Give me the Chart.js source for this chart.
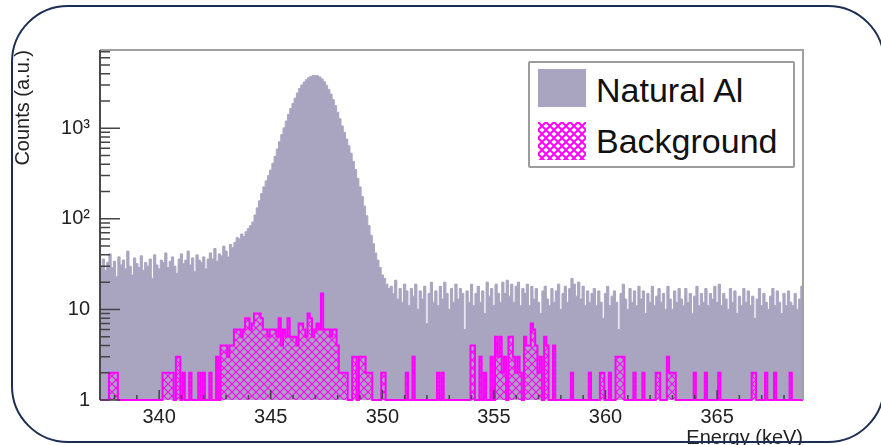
<!DOCTYPE html>
<html>
<head>
<meta charset="utf-8">
<script src="https://cdn.jsdelivr.net/npm/chart.js@4.4.0/dist/chart.umd.min.js"></script>
<style>
  html, body { margin: 0; padding: 0; background: #fff; overflow: hidden; }
  #wrap { position: relative; width: 881px; height: 445px; overflow: hidden; }
  #c { position: absolute; left: 0; top: 0; }
  #border { position: absolute; left: 11px; top: 5px; width: 874px; height: 438px; box-sizing: border-box;
            border: 2.5px solid #1c2f52; border-radius: 57px; pointer-events: none; }
  #legend { position: absolute; left: 528px; top: 61px; width: 267px; height: 107px; box-sizing: border-box;
            border: 2px solid #9c9c9c; border-radius: 2px; background: #fff; }
  .sw { position: absolute; left: 538px; width: 48px; height: 38px; }
  .lbl { position: absolute; left: 596px; font: 34px/34px "Liberation Sans", Arial, sans-serif; color: #111; white-space: nowrap; }
</style>
</head>
<body>
<div id="wrap">
  <canvas id="c" width="881" height="445"></canvas>
  <div id="legend"></div>
  <div class="sw" style="top:69px; background:#a9a5c1;"></div>
  <span class="lbl" style="top:73px;">Natural Al</span>
  <canvas class="sw" id="sw2" width="48" height="38" style="top:122px;"></canvas>
  <span class="lbl" style="top:124px;">Background</span>
  <div id="border"></div>
</div>
<script>
  // histogram binning (keV)
  const binLow = 337.35;
  const binWidth = 0.1;

  // counts per 0.1 keV bin
  const naturalAl = [
    30,36,27,33,41,29,34,23,38,31, 35,28,44,30,24,37,32,29,39,27,
    33,30,36,22,40,31,28,35,33,42, 29,34,38,30,25,36,41,32,35,44,
    31,37,26,40,35,33,38,28,36,42, 36,47,34,41,39,50,44,38,52,48,
    55,62,60,68,64,72,78,84,92,110, 132,158,190,225,262,300,345,410,490,590,
    710,850,1010,1200,1420,1650,1880,2150,2450,2750, 3000,3230,3430,3600,3730,3810,3830,3790,3680,3500,
    3260,2980,2680,2380,2070,1770,1500,1270,1060,900, 760,640,530,430,350,280,225,176,138,108,
    84,66,53,42,35,29,24,22,19,17, 18,15,21,13,17,12,19,16,11,17,
    14,19,10,16,13,18,7,15,20,12, 16,11,18,13,20,15,10,17,12,19,
    13,17,15,6,16,12,19,11,15,18, 12,16,9,20,14,17,11,19,15,12,
    20,15,21,14,19,12,18,20,11,17, 15,19,11,18,13,17,12,9,16,18,
    13,11,17,12,16,19,10,15,18,12, 17,22,19,14,20,13,18,11,16,12,
    15,17,11,16,12,8,15,18,11,14, 16,12,6,15,19,13,10,17,12,16,
    11,18,13,16,9,15,12,18,11,14, 17,12,15,10,18,13,10,16,12,17,
    13,11,17,12,15,9,14,18,11,15, 12,17,11,15,13,18,12,19,11,15,
    13,10,17,12,16,9,14,11,17,12, 16,11,14,8,13,17,11,15,12,10,
    14,17,11,16,12,9,15,11,16,12, 11,15,10,13,18
  ];

  const background = [
    0,0,0,0,2,2,2,2,0,0, 0,0,0,0,0,0,0,0,0,0,
    0,0,0,0,0,0,0,0,2,2, 2,2,2,0,3,3,0,2,0,0,
    2,0,0,0,2,0,2,0,0,2, 0,0,3,0,4,4,4,3,4,4,
    6,6,6,5,6,8,8,6,7,9, 9,9,8,6,6,5,6,6,6,5,
    8,4,6,5,8,5,5,5,4,7, 7,6,5,9,8,5,6,7,6,15,
    6,6,6,5,6,6,4,2,2,2, 2,0,0,3,3,0,3,3,3,2,
    2,2,0,0,0,0,2,2,0,0, 0,0,0,0,0,0,0,2,0,0,
    3,0,0,0,0,0,0,0,0,0, 0,2,0,2,0,0,0,0,0,0,
    0,0,0,0,0,0,4,4,0,0, 3,0,2,0,0,3,0,5,3,5,
    2,3,0,5,5,3,2,3,2,0, 5,4,4,7,6,4,2,3,0,5,
    4,0,0,4,0,0,0,0,0,0, 0,2,0,0,0,0,0,0,0,2,
    0,0,0,0,2,2,0,0,2,0, 0,3,3,3,3,0,0,0,0,2,
    0,0,0,2,0,0,0,0,0,2, 2,0,0,0,3,2,2,2,0,0,
    0,0,0,0,0,0,2,0,0,0, 0,2,0,0,0,0,0,2,0,0,
    0,0,0,0,0,0,0,0,0,0, 0,0,2,2,0,0,0,0,2,0,
    0,0,2,0,0,0,0,0,0,2, 0,0,0,0,0
  ];

  const xTickValues = [340, 345, 350, 355, 360, 365];
  const yTickValues = [1, 10, 100, 1000];
  const yTickLabels = ['1', '10', '10²', '10³'];
  const xMin = 337.35, xMax = 368.85;
  const yMin = 1, yMax = 7300;

  const FONT = '"Liberation Sans", Arial, sans-serif';
  const natColor = '#a9a5c1';
  const bkgColor = '#ff00ff';

  // histogram -> step points at bin edges (empty bins sit on the axis floor)
  function toSteps(counts) {
    const pts = counts.map((c, i) => ({ x: binLow + i * binWidth, y: Math.max(c, yMin) }));
    pts.push({ x: binLow + counts.length * binWidth, y: Math.max(counts[counts.length - 1], yMin) });
    return pts;
  }

  function makeHatch(ctx, color, size, lw) {
    const tile = document.createElement('canvas');
    tile.width = size; tile.height = size;
    const g = tile.getContext('2d');
    g.strokeStyle = color; g.lineWidth = lw;
    g.beginPath();
    g.moveTo(-1, -1); g.lineTo(size + 1, size + 1);
    g.moveTo(size + 1, -1); g.lineTo(-1, size + 1);
    g.stroke();
    return ctx.createPattern(tile, 'repeat');
  }

  const canvas = document.getElementById('c');
  const hatch = makeHatch(canvas.getContext('2d'), bkgColor, 8, 1.1);

  // legend swatch for the hatched histogram
  const sw = document.getElementById('sw2').getContext('2d');
  sw.fillStyle = '#fff'; sw.fillRect(0, 0, 48, 38);
  sw.fillStyle = makeHatch(sw, bkgColor, 8, 2); sw.fillRect(0, 0, 48, 38);

  // ROOT-like frame and inward tick marks
  const rootFrame = {
    id: 'rootFrame',
    afterDatasetsDraw(chart) {
      const { ctx, chartArea: a, scales: { x, y } } = chart;
      ctx.save();
      ctx.lineWidth = 2; ctx.strokeStyle = '#a0a0a0';
      ctx.beginPath(); ctx.moveTo(a.left, a.top); ctx.lineTo(a.right, a.top); ctx.lineTo(a.right, a.bottom); ctx.stroke();
      ctx.strokeStyle = '#4a4a4a';
      ctx.beginPath(); ctx.moveTo(a.left, a.top); ctx.lineTo(a.left, a.bottom); ctx.stroke();
      ctx.lineWidth = 1.5; ctx.strokeStyle = '#444';
      ctx.beginPath();
      y.ticks.forEach(t => {
        const py = y.getPixelForValue(t.value);
        ctx.moveTo(a.left, py); ctx.lineTo(a.left + (t.major ? 20 : 10), py);
      });
      for (let e = Math.ceil(x.min); e <= x.max; e++) {
        const px = x.getPixelForValue(e);
        ctx.moveTo(px, a.bottom - 1); ctx.lineTo(px, a.bottom - (e % 5 === 0 ? 10 : 5));
      }
      ctx.stroke();
      ctx.restore();
    }
  };

  new Chart(canvas, {
    type: 'line',
    data: {
      datasets: [
        {
          label: 'Background',
          data: toSteps(background),
          stepped: 'before',
          fill: 'start',
          backgroundColor: hatch,
          borderColor: bkgColor,
          borderWidth: 2,
          pointRadius: 0,
          clip: { left: 0, top: 0, right: 0, bottom: 3 }
        },
        {
          label: 'Natural Al',
          data: toSteps(naturalAl),
          stepped: 'before',
          fill: 'start',
          backgroundColor: natColor,
          borderColor: natColor,
          borderWidth: 1,
          pointRadius: 0
        }
      ]
    },
    options: {
      responsive: false,
      animation: false,
      layout: { padding: { left: 0, top: 50, right: 78, bottom: 0 } },
      plugins: { legend: { display: false }, tooltip: { enabled: false } },
      scales: {
        x: {
          type: 'linear',
          min: xMin,
          max: xMax,
          afterBuildTicks: s => { s.ticks = xTickValues.map(v => ({ value: v })); },
          afterFit: s => { s.height = 45; },
          grid: { display: false, drawTicks: false },
          border: { display: false },
          ticks: { autoSkip: false, maxRotation: 0, padding: 5, color: '#222', font: { family: FONT, size: 20 } },
          title: { display: true, text: 'Energy (keV)', align: 'end', color: '#222', padding: 0,
                   font: { family: FONT, size: 20, lineHeight: 0.7 } }
        },
        y: {
          type: 'logarithmic',
          min: yMin,
          max: yMax,
          afterBuildTicks: s => {
            const ticks = [];
            yTickValues.forEach(d => {
              for (let m = 1; m <= 9; m++) {
                if (d * m <= yMax) ticks.push({ value: d * m, major: m === 1 });
              }
            });
            s.ticks = ticks;
          },
          afterFit: s => { s.width = 100; },
          grid: { display: false, drawTicks: false },
          border: { display: false },
          ticks: {
            autoSkip: false, padding: 10, color: '#222', font: { family: FONT, size: 20 },
            callback: v => { const k = yTickValues.indexOf(v); return k >= 0 ? yTickLabels[k] : ''; }
          },
          title: { display: true, text: 'Counts (a.u.)', align: 'end', color: '#222',
                   padding: { top: 11, bottom: 0 }, font: { family: FONT, size: 20 } }
        }
      }
    },
    plugins: [rootFrame]
  });
</script>
</body>
</html>
